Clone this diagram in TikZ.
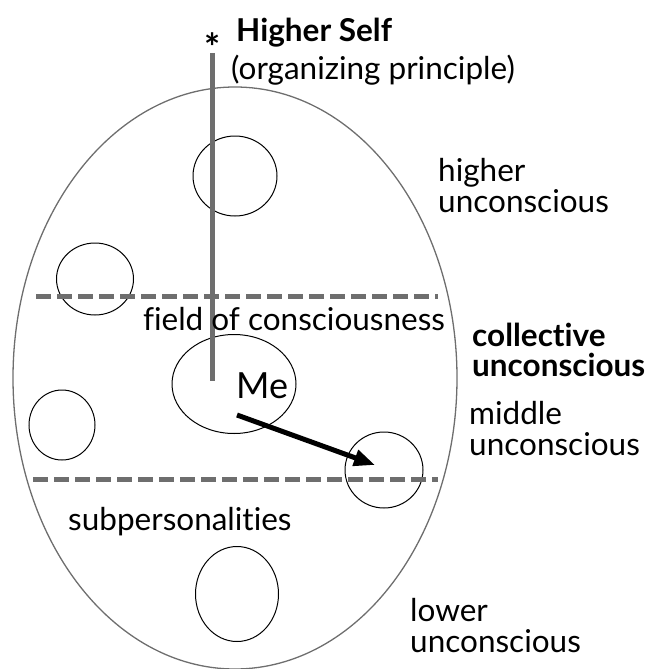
\documentclass[tikz,border=0pt]{standalone}
\usepackage{fontspec}
\setmainfont{Lato}[Ligatures={NoCommon}]
\usetikzlibrary{arrows.meta,positioning,shapes.geometric}
\definecolor{grayline}{HTML}{6E6E6E}

\begin{document}
\begin{tikzpicture}[x=1pt, y=-1pt, >={Triangle[length=21pt,width=16pt]},
  every node/.style={font=\fontsize{31.5}{31}\selectfont}]
\tikzstyle{sp}=[draw, ellipse, inner sep=0pt, line width=1pt]
\tikzstyle{lbl}=[align=left, anchor=west, inner sep=0pt]
\tikzstyle{bar}=[line width=5pt, draw=grayline]
\tikzstyle{split}=[line width=5pt, draw=grayline, dash pattern=on 15pt off 6pt]
\useasboundingbox (0,0) rectangle (646,669);
% the whole psyche
\node[sp, draw=grayline, line width=1.3pt, minimum width=444pt, minimum height=582pt] (psyche) at (235,378) {};
% subpersonalities
\node[sp, minimum width=84pt, minimum height=80pt] (s1) at (235,176) {};
\node[sp, minimum width=77pt, minimum height=72pt] (s2) at (95,279) {};
\node[sp, minimum width=66pt, minimum height=70pt] (s3) at (62,425) {};
\node[sp, minimum width=78pt, minimum height=76pt] (s4) at (384,470) {};
\node[sp, minimum width=83pt, minimum height=95pt] (s5) at (237,594) {};
\node[sp, minimum width=124pt, minimum height=99pt] (me) at (234,384) {};
\node[inner sep=0pt, anchor=base west, font=\fontsize{36}{36}\selectfont] (metxt) at (236,398) {Me};
% levels
\coordinate (up1) at (36,296); \coordinate (up2) at (438,296);
\coordinate (lo1) at (33,479); \coordinate (lo2) at (438,479);
\draw[split] (up1) -- (up2);
\draw[split] (lo1) -- (lo2);
% higher self
\node[inner sep=0pt, anchor=base, font=\fontsize{38}{38}\bfseries] (star) at (213,62) {*};
\coordinate (top) at (212,53); \coordinate (bot) at (212,381);
\draw[bar] (top) -- (bot);
\node[inner sep=0pt, anchor=base west, font=\fontsize{31.5}{31}\bfseries] (hs) at (236,42) {Higher Self};
\node[inner sep=0pt, anchor=base west] (op) at (231,79) {(organizing principle)};
% will
\coordinate (a1) at (237,415); \coordinate (a2) at (375,465);
\draw[->, line width=5pt] (a1) -- (a2);
% labels
\node[lbl] (hu) at (438,186) {higher\\unconscious};
\node[lbl, font=\fontsize{31.5}{30}\bfseries] (cu) at (472,350) {collective\\unconscious};
\node[lbl] (mu) at (469,429) {middle\\unconscious};
\node[lbl] (lu) at (410,626) {lower\\unconscious};
\node[inner sep=0pt, anchor=base] (fc) at (294,330) {field of consciousness};
\node[inner sep=0pt, anchor=base west] (sub) at (68,530) {subpersonalities};
\end{tikzpicture}
\end{document}
